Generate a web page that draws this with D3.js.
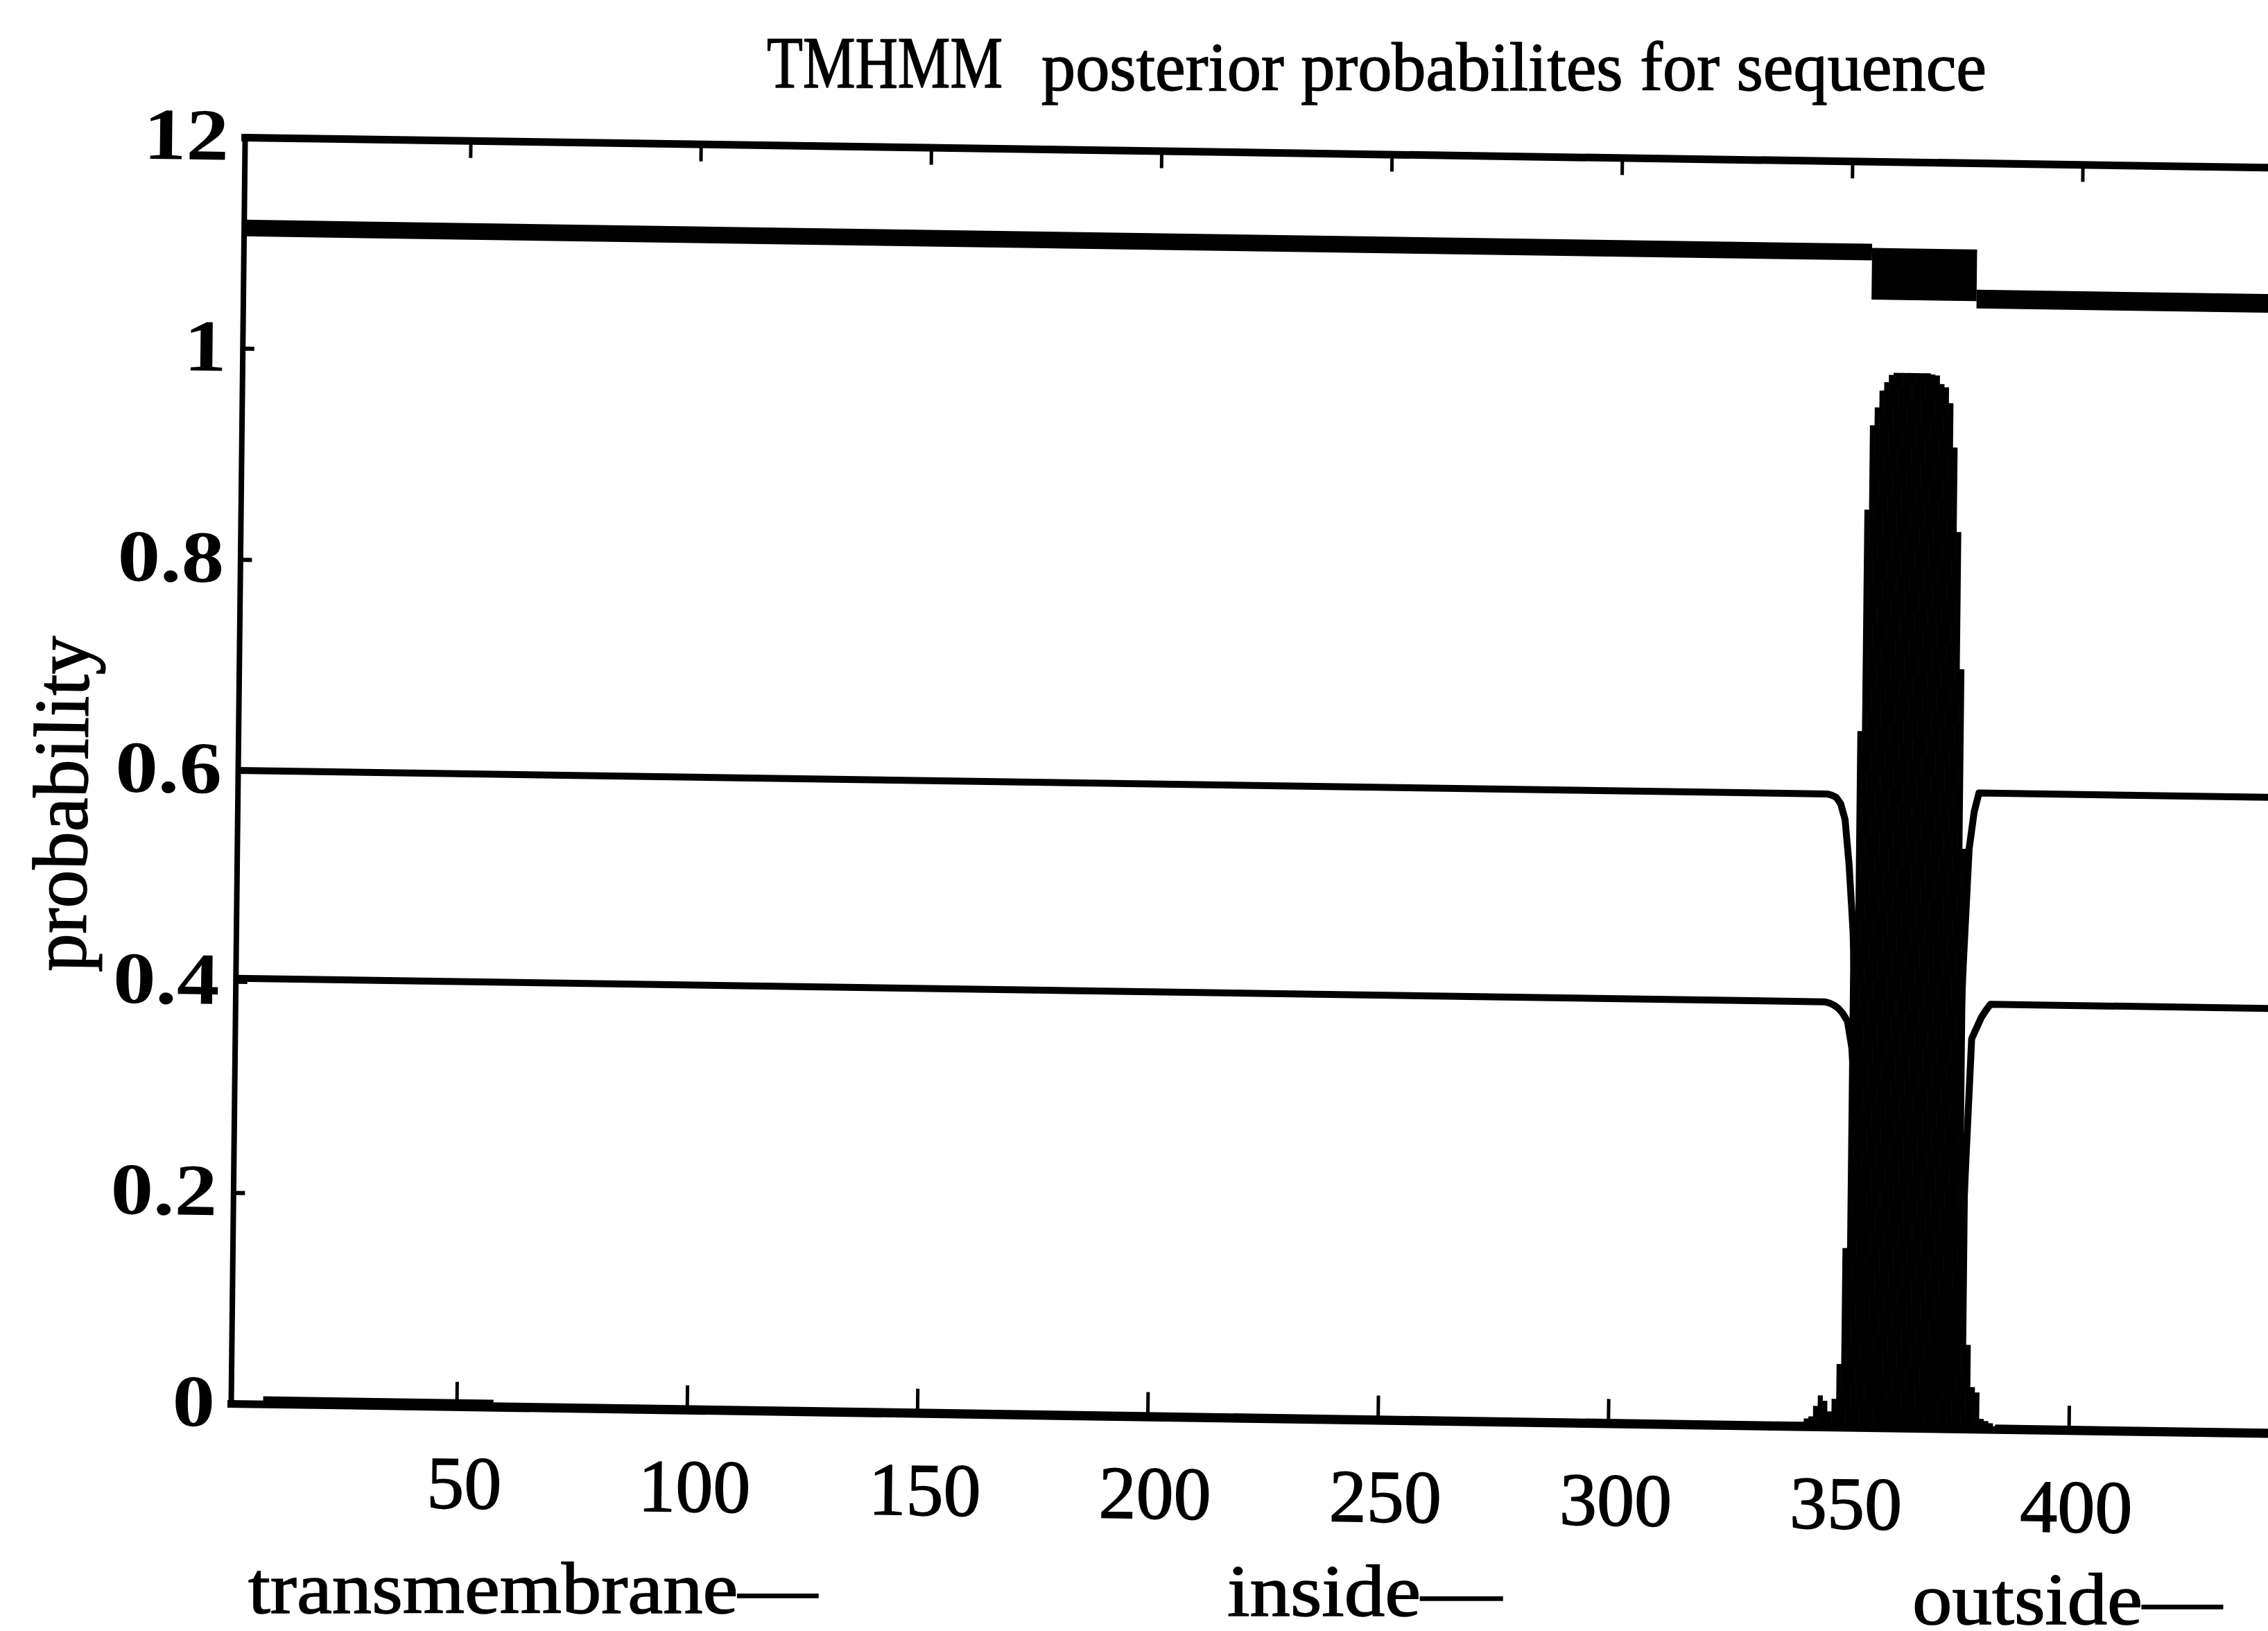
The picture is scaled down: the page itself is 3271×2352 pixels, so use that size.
<!DOCTYPE html>
<html><head><meta charset="utf-8">
<script src="https://cdn.jsdelivr.net/npm/d3@7"></script>
<style>html,body{margin:0;padding:0;background:#fff;}svg{display:block;}</style>
</head><body>
<script>
// ---------------- data ----------------
const seqLength = 450;
const xTicks = [50, 100, 150, 200, 250, 300, 350, 400];
const yTicks = [0, 0.2, 0.4, 0.6, 0.8, 1, 1.2];
const yTickLabels = ["0", "0.2", "0.4", "0.6", "0.8", "1", "12"];
const titleMain = "TMHMM";
const titleRest = "posterior probabilites for sequence";
const yLabel = "probability";
const legendLabels = ["transmembrane\u2014", "inside\u2014", "outside\u2014"];

// transmembrane posterior probability (impulses)
const tmPos = [343,344,345,346,347,348,349,350,351,352,353,354,355,356,357,358,359,360,361,362,363,
               364,365,366,367,368,369,370,371,372,373,374,375,376,377,378,379,380,381,382,383];
const tmVal = [0.008,0.010,0.020,0.030,0.025,0.015,0.027,0.060,0.170,0.450,0.660,0.870,0.950,0.967,0.983,0.991,0.998,1.000,1.000,1.000,1.000,
               1.000,1.000,1.000,1.000,0.999,0.998,0.990,0.987,0.972,0.930,0.850,0.720,0.550,0.230,0.080,0.040,0.035,0.010,0.008,0.006];
// near-zero transmembrane probability elsewhere
const tmFloorStart = [8, 58, 384];
const tmFloorEnd = [58, 343, 450];
const tmFloorVal = [0.004, 0.0015, 0.0015];

// upper curve (~0.6)
const curveAPos = [1,346,347,348,349,350,351,352,353,354,356,358,360,366,368,371,373,374,375,376,377,378,379,450];
const curveAVal = [0.600,0.600,0.599,0.597,0.591,0.576,0.532,0.470,0.350,0.200,0.060,0.020,0.010,0.010,0.020,0.050,0.120,0.200,0.300,0.440,0.550,0.585,0.603,0.603];
// lower curve (~0.4)
const curveBPos = [1,346,347,348,349,350,351,352,353,354,356,360,366,370,373,375,376,377,378,379,380,381,382,450];
const curveBVal = [0.403,0.403,0.402,0.400,0.397,0.392,0.385,0.360,0.300,0.200,0.080,0.020,0.010,0.020,0.050,0.080,0.120,0.250,0.370,0.380,0.390,0.397,0.403,0.403];

// predicted topology bar at the top
const topoStart = [1, 354.5, 377.3];
const topoEnd = [354.5, 377.3, 450];
const topoLevel = [1.114, null, 1.071];
const tmBoxLow = 1.069, tmBoxHigh = 1.118;

// ---------------- drawing ----------------
const W = 3271, H = 2352;
const FONT = "'Liberation Serif', 'Times New Roman', serif";
const svg = d3.select("body").append("svg").attr("width", W).attr("height", H)
  .style("background", "#fff");

const x0 = 333, y0 = 2024, yTop = 198, pxPerRes = 6.643;
const x = d3.scaleLinear().domain([1, seqLength]).range([x0, x0 + (seqLength - 1) * pxPerRes]);
const y = d3.scaleLinear().domain([0, 1.2]).range([y0, yTop]);

// scanned page is slightly rotated: affine transform about the plot origin
const b = 0.0148, c = -0.011;
const g = svg.append("g")
  .attr("transform", `matrix(1,${b},${c},1,${-c * y0},${-b * x0})`);

// curves
const line = d3.line().x(d => x(d[0])).y(d => y(d[1]));
[[curveAPos, curveAVal], [curveBPos, curveBVal]].forEach(([p, v]) => {
  g.append("path").datum(p.map((q, i) => [q, v[i]]))
    .attr("d", line).attr("fill", "none").attr("stroke", "#000")
    .attr("stroke-width", 10).attr("stroke-linejoin", "round");
});

// tm floor
g.selectAll("rect.floor").data(tmFloorStart.map((s, i) => [s, tmFloorEnd[i], tmFloorVal[i]]))
  .join("rect").attr("class", "floor")
  .attr("x", d => x(d[0])).attr("width", d => x(d[1]) - x(d[0]))
  .attr("y", d => y(d[2]) - 5).attr("height", d => y(0) - y(d[2]) + 5)
  .attr("fill", "#000");

// tm impulses
g.selectAll("line.tm").data(tmPos.map((p, i) => [p, tmVal[i]]))
  .join("line").attr("class", "tm")
  .attr("x1", d => x(d[0])).attr("x2", d => x(d[0]))
  .attr("y1", y(0)).attr("y2", d => y(d[1]))
  .attr("stroke", "#000").attr("stroke-width", 7.2);

// topology bar
g.append("line").attr("x1", x(topoStart[0])).attr("x2", x(topoEnd[0]))
  .attr("y1", y(topoLevel[0])).attr("y2", y(topoLevel[0]))
  .attr("stroke", "#000").attr("stroke-width", 24);
g.append("rect").attr("x", x(topoStart[1])).attr("width", x(topoEnd[1]) - x(topoStart[1]))
  .attr("y", y(tmBoxHigh)).attr("height", y(tmBoxLow) - y(tmBoxHigh)).attr("fill", "#000");
g.append("line").attr("x1", x(topoStart[2])).attr("x2", x(topoEnd[2]))
  .attr("y1", y(topoLevel[2])).attr("y2", y(topoLevel[2]))
  .attr("stroke", "#000").attr("stroke-width", 27);

// axes (ticks inward)
function styleAxis(sel, domainW, tickW) {
  sel.select(".domain").attr("stroke", "#000").attr("stroke-width", domainW).attr("stroke-linecap", "square");
  sel.selectAll(".tick line").attr("stroke", "#000").attr("stroke-width", tickW);
  sel.selectAll(".tick text").remove();
}
const axB = g.append("g").attr("transform", `translate(0,${y(0)})`)
  .call(d3.axisTop(x).tickValues(xTicks).tickSize(36).tickSizeOuter(0));
styleAxis(axB, 11, 5);
const axT = g.append("g").attr("transform", `translate(0,${y(1.2)})`)
  .call(d3.axisBottom(x).tickValues(xTicks).tickSize(25).tickSizeOuter(0));
styleAxis(axT, 11, 5);
const axL = g.append("g").attr("transform", `translate(${x(1)},0)`)
  .call(d3.axisRight(y).tickValues(yTicks.slice(1, -1)).tickSize(17).tickSizeOuter(0));
styleAxis(axL, 8, 6);
const axR = g.append("g").attr("transform", `translate(${x(seqLength)},0)`)
  .call(d3.axisLeft(y).tickValues(yTicks.slice(1, -1)).tickSize(17).tickSizeOuter(0));
styleAxis(axR, 8, 6);

// tick labels
g.selectAll("text.ylab").data(yTicks).join("text").attr("class", "ylab")
  .attr("transform", d => `translate(310,${y(d) + 33}) scale(1.16,1)`)
  .attr("text-anchor", "end").attr("font-family", FONT).attr("font-weight", "bold")
  .attr("font-size", 106).attr("fill", "#000")
  .text((d, i) => yTickLabels[i]);
g.selectAll("text.xlab").data(xTicks).join("text").attr("class", "xlab")
  .attr("x", d => x(d) + 12).attr("y", 2170)
  .attr("text-anchor", "middle").attr("font-family", FONT)
  .attr("font-size", 108).attr("fill", "#000")
  .attr("stroke", "#000").attr("stroke-width", 1.5)
  .text(d => d);

// y label
g.append("text").attr("transform", "translate(116,1163) rotate(-90)")
  .attr("text-anchor", "middle").attr("font-family", FONT).attr("font-size", 112)
  .attr("textLength", 484).attr("lengthAdjust", "spacingAndGlyphs")
  .attr("stroke", "#000").attr("stroke-width", 1.5)
  .attr("fill", "#000").text(yLabel);

// legend (screen coordinates)
const legX = [358, 1770, 2758], legY = [2326, 2330, 2342], legLen = [821, 396, 447];
svg.selectAll("text.leg").data(legendLabels).join("text").attr("class", "leg")
  .attr("x", (d, i) => legX[i]).attr("y", (d, i) => legY[i])
  .attr("font-family", FONT).attr("font-size", 106).attr("fill", "#000")
  .attr("stroke", "#000").attr("stroke-width", 1.5)
  .attr("textLength", (d, i) => legLen[i]).attr("lengthAdjust", "spacingAndGlyphs")
  .text(d => d);

// title
svg.append("text").attr("x", 1106).attr("y", 126)
  .attr("font-family", FONT).attr("font-size", 106).attr("fill", "#000")
  .attr("stroke", "#000").attr("stroke-width", 1.5)
  .attr("textLength", 340).attr("lengthAdjust", "spacingAndGlyphs").text(titleMain);
svg.append("text").attr("x", 1502).attr("y", 130)
  .attr("font-family", FONT).attr("font-size", 100).attr("fill", "#000")
  .attr("stroke", "#000").attr("stroke-width", 1.5)
  .attr("textLength", 1363).attr("lengthAdjust", "spacingAndGlyphs").text(titleRest);
</script>
</body></html>
